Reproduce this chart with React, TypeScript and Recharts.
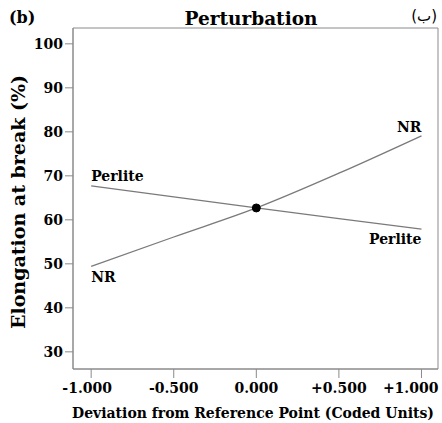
import React from "react";
import {
  LineChart,
  Line,
  XAxis,
  YAxis,
  ReferenceDot,
  ReferenceArea,
} from "recharts";

const deviations = [-1, -0.5, 0, 0.5, 1];
const nrValues = [49.4, 56.1, 62.7, 70.6, 79.1];
const perliteValues = [67.7, 65.2, 62.7, 60.3, 57.9];
const xTicks = [-1, -0.5, 0, 0.5, 1];
const xTickLabels = ["-1.000", "-0.500", "0.000", "+0.500", "+1.000"];
const yTicks = [30, 40, 50, 60, 70, 80, 90, 100];
const referencePoint = { x: 0, y: 62.7 };
const seriesNames = { nr: "NR", perlite: "Perlite" };
const xDomain: [number, number] = [-1.11, 1.1];
const yDomain: [number, number] = [26.1, 103.6];

const data = deviations.map((d, i) => ({
  x: d,
  nr: nrValues[i],
  perlite: perliteValues[i],
}));

const FONT = "'DejaVu Serif', 'Liberation Serif', serif";
const W = 442;
const H = 423;
const LINE = "#7a7a7a";
const FRAME = "#8a8a8a";

const makeLabel = (name: string, firstBelow: boolean) => (props: any) => {
  const { x, y, index } = props;
  const last = deviations.length - 1;
  if (index === 0) {
    return (
      <text
        key={`l${index}`}
        x={x}
        y={firstBelow ? y + 16 : y - 5}
        textAnchor="start"
        fontFamily={FONT}
        fontWeight="bold"
        fontSize={14}
        fill="#000"
      >
        {name}
      </text>
    );
  }
  if (index === last) {
    return (
      <text
        key={`l${index}`}
        x={x}
        y={firstBelow ? y - 4 : y + 15}
        textAnchor="end"
        fontFamily={FONT}
        fontWeight="bold"
        fontSize={14}
        fill="#000"
      >
        {name}
      </text>
    );
  }
  return <g key={`l${index}`} />;
};

const XTick = (props: any) => {
  const { x, y, payload } = props;
  const i = xTicks.indexOf(payload.value);
  const last = xTicks.length - 1;
  let anchor: "middle" | "end" = "middle";
  let tx = x;
  if (i === 0) tx = x - 4;
  if (i === last) {
    anchor = "end";
    tx = x + 17;
  }
  return (
    <text
      x={tx}
      y={y + 13}
      textAnchor={anchor}
      fontFamily={FONT}
      fontWeight="bold"
      fontSize={14}
      fill="#000"
    >
      {xTickLabels[i]}
    </text>
  );
};

const YTick = (props: any) => {
  const { x, y, payload } = props;
  return (
    <text
      x={x}
      y={y + 5}
      textAnchor="end"
      fontFamily={FONT}
      fontWeight="bold"
      fontSize={14}
      fill="#000"
    >
      {payload.value}
    </text>
  );
};

export default function App() {
  return (
    <div style={{ position: "absolute", left: 0, top: 0, width: W, height: H, background: "#fff" }}>
      <LineChart
        width={W}
        height={H}
        data={data}
        margin={{ top: 28, right: 4, left: 13, bottom: 24 }}
      >
        <XAxis
          dataKey="x"
          type="number"
          domain={xDomain}
          ticks={xTicks}
          tick={<XTick />}
          tickSize={9}
          stroke={FRAME}
          tickLine={{ stroke: FRAME }}
          axisLine={{ stroke: FRAME }}
          height={30}
          allowDataOverflow
        />
        <YAxis
          type="number"
          domain={yDomain}
          ticks={yTicks}
          tick={<YTick />}
          tickSize={8}
          tickLine={{ stroke: FRAME }}
          axisLine={{ stroke: FRAME }}
          width={60}
          allowDataOverflow
        />
        <ReferenceArea
          x1={xDomain[0]}
          x2={xDomain[1]}
          y1={yDomain[0]}
          y2={yDomain[1]}
          fill="none"
          fillOpacity={0}
          stroke={FRAME}
          strokeWidth={1}
          ifOverflow="visible"
        />
        <Line
          dataKey="perlite"
          type="linear"
          stroke={LINE}
          strokeWidth={1.3}
          dot={false}
          isAnimationActive={false}
          label={makeLabel(seriesNames.perlite, false)}
        />
        <Line
          dataKey="nr"
          type="monotone"
          stroke={LINE}
          strokeWidth={1.3}
          dot={false}
          isAnimationActive={false}
          label={makeLabel(seriesNames.nr, true)}
        />
        <ReferenceDot
          x={referencePoint.x}
          y={referencePoint.y}
          r={4}
          fill="#000"
          stroke="#000"
        />
      </LineChart>
      <svg
        width={W}
        height={H}
        style={{ position: "absolute", left: 0, top: 0, pointerEvents: "none" }}
      >
        <text x={9} y={23} fontFamily={FONT} fontWeight="bold" fontSize={16} fill="#000">
          (b)
        </text>
        <text x={251} y={25} textAnchor="middle" fontFamily={FONT} fontWeight="bold" fontSize={18.5} fill="#000">
          Perturbation
        </text>
        <text x={437} y={21} textAnchor="end" fontFamily="'DejaVu Sans', sans-serif" fontSize={15} fill="#000">
          (ب)
        </text>
        <text x={253} y={418} textAnchor="middle" fontFamily={FONT} fontWeight="bold" fontSize={14} fill="#000">
          Deviation from Reference Point (Coded Units)
        </text>
        <text
          x={0}
          y={0}
          transform="translate(25, 202) rotate(-90)"
          textAnchor="middle"
          fontFamily={FONT}
          fontWeight="bold"
          fontSize={19}
          fill="#000"
        >
          Elongation at break (%)
        </text>
      </svg>
    </div>
  );
}
